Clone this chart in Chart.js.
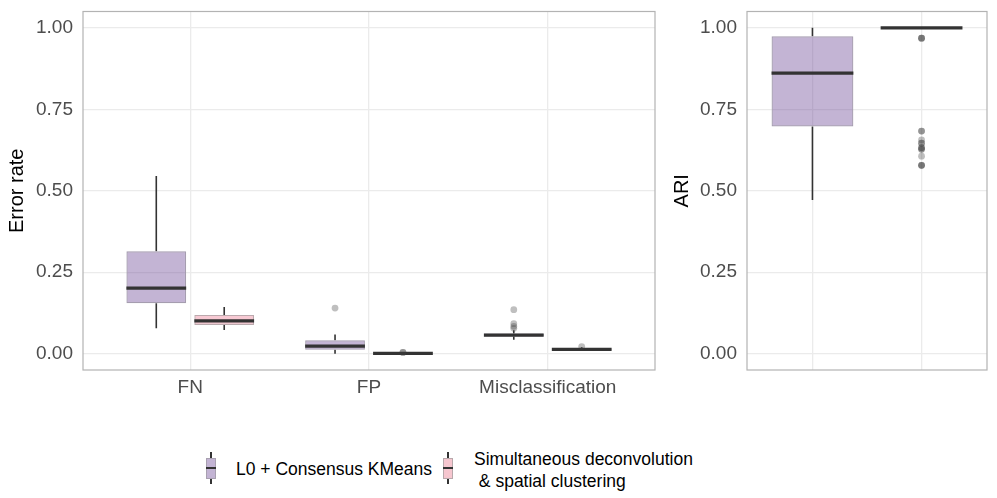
<!DOCTYPE html>
<html>
<head>
<meta charset="utf-8">
<script src="https://cdn.jsdelivr.net/npm/chart.js@4"></script>
<style>
  body { margin: 0; background: #fff; font-family: "Liberation Sans", Arial, sans-serif; overflow: hidden; }
  #wrap { position: relative; width: 997px; height: 498px; overflow: hidden; }
  #errCanvas { position: absolute; left: 0; top: -8px; }
  #ariCanvas { position: absolute; left: 660px; top: -8px; }
  .legend { position: absolute; top: 448px; left: 0; width: 997px; height: 44px; font-size: 17.5px; color: #000; }
  .key { position: absolute; width: 10px; height: 32px; }
  .key .wh { position: absolute; left: 4px; width: 2px; top: 0; height: 32px; background: #333; }
  .key .bx { position: absolute; left: 0; top: 6px; width: 8px; height: 19px; border: 1px solid #a8a0b0; }
  .key .md { position: absolute; left: 0; top: 15px; width: 10px; height: 2px; background: #333; }
  .lbl { position: absolute; white-space: pre; line-height: 22px; }
</style>
</head>
<body>
<div id="wrap">
  <canvas id="errCanvas" width="660" height="408"></canvas>
  <canvas id="ariCanvas" width="337" height="408"></canvas>
  <div class="legend">
    <div class="key" style="left:206px;top:4px"><div class="wh"></div><div class="bx" style="background:#c3b4d4"></div><div class="md"></div></div>
    <div class="lbl" style="left:236px;top:10px">L0 + Consensus KMeans</div>
    <div class="key" style="left:443px;top:4px"><div class="wh"></div><div class="bx" style="background:#f6c6cf;border-color:#b8a8ab"></div><div class="md"></div></div>
    <div class="lbl" style="left:474px;top:0px">Simultaneous deconvolution
 &amp; spatial clustering</div>
  </div>
</div>
<script>
// error panel
const errCategories = ['FN', 'FP', 'Misclassification'];
// box stats per category: [whiskerLow, q1, median, q3, whiskerHigh]
const l0Err = [
  [0.078, 0.155, 0.201, 0.314, 0.545],
  [0.0, 0.012, 0.023, 0.041, 0.059],
  [0.043, 0.053, 0.057, 0.062, 0.072]
];
const simErr = [
  [0.073, 0.088, 0.101, 0.119, 0.143],
  [0.0, 0.0, 0.001, 0.002, 0.003],
  [0.008, 0.011, 0.013, 0.016, 0.020]
];
const l0ErrOutliers = [[], [0.140], [0.135, 0.092, 0.084, 0.078]];
const simErrOutliers = [[], [0.004, 0.004], [0.022]];

// ARI panel
const ariMethods = ['L0 + Consensus KMeans', 'Simultaneous deconvolution & spatial clustering'];
const ariStats = [
  [0.472, 0.697, 0.861, 0.974, 1.0],
  [1.0, 1.0, 1.0, 1.0, 1.0]
];
const ariOutliers = [[], [0.968, 0.968, 0.968, 0.683, 0.683, 0.656, 0.646, 0.646, 0.632, 0.632, 0.627, 0.627, 0.606, 0.578, 0.578, 0.578]];

const purpleFill = 'rgba(105,68,148,0.4)';
const pinkFill = 'rgba(236,120,145,0.4)';
const purpleLine = '#a59daf';
const pinkLine = '#bba9ad';

// whiskers, medians and outliers drawn round the bar boxes
const boxPlugin = {
  id: 'boxExtras',
  beforeDatasetsDraw(chart) {
    const ctx = chart.ctx;
    const y = chart.scales.y;
    chart.data.datasets.forEach((ds, di) => {
      const meta = chart.getDatasetMeta(di);
      ds.stats.forEach((s, i) => {
        const bar = meta.data[i];
        ctx.save();
        ctx.strokeStyle = '#333';
        ctx.lineWidth = 1.6;
        ctx.beginPath();
        ctx.moveTo(bar.x, y.getPixelForValue(s[0]));
        ctx.lineTo(bar.x, y.getPixelForValue(s[1]));
        ctx.moveTo(bar.x, y.getPixelForValue(s[3]));
        ctx.lineTo(bar.x, y.getPixelForValue(s[4]));
        ctx.stroke();
        ctx.restore();
      });
    });
  },
  afterDatasetsDraw(chart) {
    const ctx = chart.ctx;
    const y = chart.scales.y;
    chart.data.datasets.forEach((ds, di) => {
      const meta = chart.getDatasetMeta(di);
      ds.stats.forEach((s, i) => {
        const bar = meta.data[i];
        const half = bar.width / 2;
        const ym = y.getPixelForValue(s[2]);
        ctx.save();
        ctx.strokeStyle = '#333';
        ctx.lineWidth = 3.2;
        ctx.beginPath();
        ctx.moveTo(bar.x - half, ym);
        ctx.lineTo(bar.x + half, ym);
        ctx.stroke();
        ctx.fillStyle = 'rgba(60,60,60,0.33)';
        ds.outliers[i].forEach(v => {
          ctx.beginPath();
          ctx.arc(bar.x, y.getPixelForValue(v), 3.4, 0, Math.PI * 2);
          ctx.fill();
        });
        ctx.restore();
      });
    });
    // panel border
    const a = chart.chartArea;
    ctx.save();
    ctx.strokeStyle = '#b3b3b3';
    ctx.lineWidth = 1.2;
    ctx.strokeRect(a.left, a.top, a.right - a.left, a.bottom - a.top);
    ctx.restore();
  }
};

const yScale = (title, titlePad, width) => ({
  min: -0.05,
  max: 1.05,
  afterFit: s => { s.width = width; },
  grid: { color: '#ebebeb', lineWidth: 1.3, drawTicks: false },
  border: { display: false },
  ticks: {
    stepSize: 0.25,
    includeBounds: false,
    padding: 10,
    color: '#4d4d4d',
    font: { family: '"Liberation Sans", Arial, sans-serif', size: 19, lineHeight: 1 },
    callback: v => v.toFixed(2)
  },
  title: {
    display: true,
    text: title,
    color: '#000',
    padding: { top: titlePad, bottom: 0 },
    font: { family: '"Liberation Sans", Arial, sans-serif', size: 20 }
  }
});

const xScale = (labels, count, showLabels) => ({
  type: 'linear',
  min: 0.4,
  max: count + 0.6,
  offset: false,
  afterFit: s => { s.height = 30; },
  grid: { color: '#ebebeb', lineWidth: 1.3, drawTicks: false, offset: false },
  border: { display: false },
  ticks: {
    display: showLabels,
    stepSize: 1,
    includeBounds: false,
    padding: 6,
    maxRotation: 0,
    autoSkip: false,
    color: '#4d4d4d',
    font: { family: '"Liberation Sans", Arial, sans-serif', size: 19 },
    callback: v => labels[v - 1]
  }
});

const baseOptions = {
  responsive: false,
  animation: false,
  plugins: { legend: { display: false }, tooltip: { enabled: false } },
  datasets: { bar: { borderSkipped: false, borderWidth: 1.2 } }
};

new Chart(document.getElementById('errCanvas'), {
  type: 'bar',
  data: {
    datasets: [
      {
        label: 'L0 + Consensus KMeans',
        data: l0Err.map((s, i) => ({ x: i + 1, y: [s[1], s[3]] })),
        stats: l0Err,
        outliers: l0ErrOutliers,
        backgroundColor: purpleFill,
        borderColor: purpleLine,
        categoryPercentage: 0.76,
        barPercentage: 0.88
      },
      {
        label: 'Simultaneous deconvolution & spatial clustering',
        data: simErr.map((s, i) => ({ x: i + 1, y: [s[1], s[3]] })),
        stats: simErr,
        outliers: simErrOutliers,
        backgroundColor: pinkFill,
        borderColor: pinkLine,
        categoryPercentage: 0.76,
        barPercentage: 0.88
      }
    ]
  },
  options: Object.assign({}, baseOptions, {
    layout: { padding: { top: 0, right: 5, bottom: 0, left: 0 } },
    scales: {
      x: xScale(errCategories, errCategories.length, true),
      y: yScale('Error rate', 5, 83)
    }
  }),
  plugins: [boxPlugin]
});

new Chart(document.getElementById('ariCanvas'), {
  type: 'bar',
  data: {
    datasets: [
      {
        label: 'ARI',
        data: ariStats.map((s, i) => ({ x: i + 1, y: [s[1], s[3]] })),
        stats: ariStats,
        outliers: ariOutliers,
        backgroundColor: [purpleFill, pinkFill],
        borderColor: [purpleLine, pinkLine],
        categoryPercentage: 1,
        barPercentage: 0.75
      }
    ]
  },
  options: Object.assign({}, baseOptions, {
    layout: { padding: { top: 0, right: 10, bottom: 0, left: 0 } },
    scales: {
      x: xScale(ariMethods, ariMethods.length, false),
      y: yScale('ARI', 10, 87)
    }
  }),
  plugins: [boxPlugin]
});
</script>
</body>
</html>
